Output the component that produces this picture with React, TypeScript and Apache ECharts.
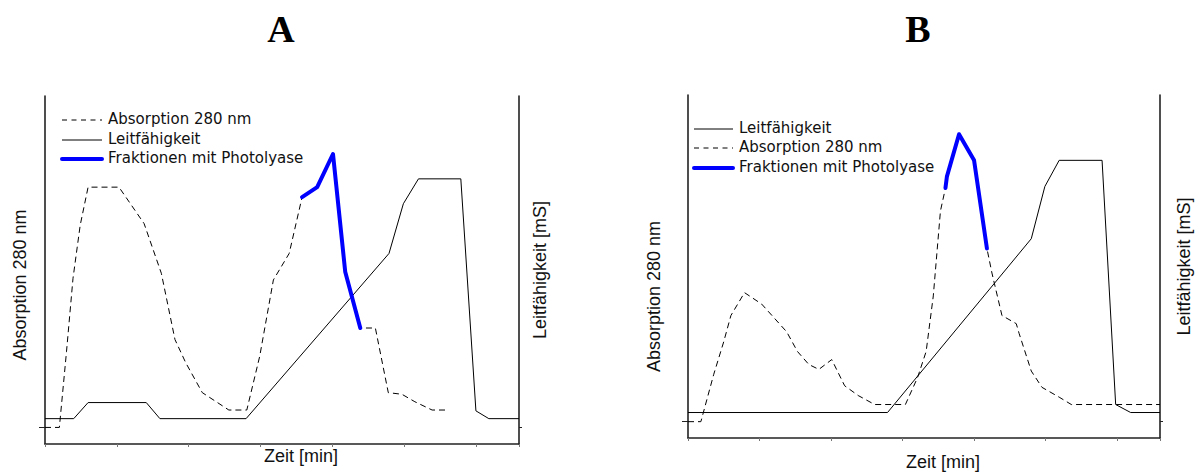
import React, { useEffect, useRef } from "react";
import * as echarts from "echarts";

// [Zeit (min), Wert] pairs, panel A
const absorptionA: [number, number][] = [
  [0, 0], [2.0, 0], [3.0, 4.6], [3.9, 9.0], [4.9, 12.2], [6.0, 14.5], [10.3, 14.5],
  [13.8, 12.3], [16.2, 9.3], [18.1, 5.3], [19.6, 3.9], [21.9, 2.1], [25.6, 1.05],
  [28.1, 1.05], [29.9, 4.3], [31.8, 8.9], [34.0, 10.5], [35.8, 13.9], [37.9, 14.5],
  [40.1, 16.5], [41.8, 9.4], [43.9, 6.0], [46.0, 6.0], [47.8, 2.1], [49.7, 2.0],
  [51.5, 1.55], [53.9, 1.05], [56.0, 1.05],
];
const leitfaehigkeitA: [number, number][] = [
  [0, 0.53], [4.0, 0.53], [6.0, 1.5], [14.1, 1.5], [16.0, 0.53], [28.0, 0.53],
  [47.9, 10.5], [49.9, 13.5], [52.0, 15.0], [57.9, 15.0], [60.0, 1.0], [61.8, 0.53],
  [66, 0.53],
];
const photolyaseA: [number, number][] = [
  [35.8, 13.9], [37.9, 14.5], [40.1, 16.5], [41.8, 9.4], [43.9, 6.0],
];

// [Zeit (min), Wert] pairs, panel B
const absorptionB: [number, number][] = [
  [0, 0], [1.8, 0], [3.6, 2.9], [5.0, 4.9], [6.0, 6.5], [7.9, 7.9], [10.3, 7.2],
  [13.8, 5.5], [15.3, 4.3], [16.9, 3.5], [18.3, 3.2], [20.1, 3.8], [21.9, 2.2],
  [23.8, 1.6], [26.1, 1.05], [30.4, 1.05], [32.1, 2.7], [33.3, 4.3], [34.3, 7.7],
  [35.3, 12.9], [36.0, 14.3], [36.2, 15.0], [37.9, 17.6], [40.0, 16.0], [41.8, 10.6],
  [42.5, 9.1], [43.9, 6.5], [45.9, 6.0], [46.3, 5.4], [48.0, 3.1], [49.5, 2.1],
  [51.9, 1.5], [53.6, 1.05], [66, 1.05],
];
const leitfaehigkeitB: [number, number][] = [
  [0, 0.56], [27.9, 0.56], [48.0, 11.2], [49.9, 14.4], [51.9, 16.0], [57.9, 16.0],
  [59.8, 1.05], [61.9, 0.56], [66, 0.56],
];
const photolyaseB: [number, number][] = [
  [36.0, 14.3], [36.2, 15.0], [37.9, 17.6], [40.0, 16.0], [41.8, 10.6],
];

const panelTitles = ["A", "B"];
const ABS = "Absorption 280 nm";
const LEIT = "Leitfähigkeit";
const FRAK = "Fraktionen mit Photolyase";
const legendOrderA = [ABS, LEIT, FRAK];
const legendOrderB = [LEIT, ABS, FRAK];
const xTitle = "Zeit [min]";
const yLeftTitle = "Absorption 280 nm";
const yRightTitle = "Leitfähigkeit [mS]";
const zeitTicks = { min: 0, max: 66, interval: 10 };
const wertRange = { min: -1, max: 20 };

const lineStyles: Record<string, any> = {
  [ABS]: { color: "#000", width: 1, type: [6, 4] },
  [LEIT]: { color: "#000", width: 1, type: "solid" },
  [FRAK]: { color: "#0000ff", width: 4, type: "solid", cap: "round", join: "round" },
};

const axisColor = "#222";
const nameFont = { fontFamily: "Liberation Sans, Arial, sans-serif", fontSize: 18, color: "#111" };

function panel(
  i: number,
  geom: { left: number; top: number; width: number; height: number },
  names: { xGap: number; yLeftGap: number; yRightGap: number; yLeftPad: number[] },
  abs: [number, number][],
  leit: [number, number][],
  frak: [number, number][]
) {
  const grid = { ...geom, containLabel: false };
  const xAxis = {
    gridIndex: i,
    type: "value",
    ...zeitTicks,
    axisLine: { show: true, onZero: false, lineStyle: { color: axisColor, width: 1.5 } },
    axisTick: { show: true, length: 3, lineStyle: { color: "#777", width: 1 } },
    axisLabel: { show: false },
    splitLine: { show: false },
    name: xTitle,
    nameLocation: "middle",
    nameGap: names.xGap,
    nameTextStyle: { ...nameFont, padding: [0, 0, 0, 38] },
  };
  const yBase = {
    gridIndex: i,
    type: "value",
    ...wertRange,
    axisLine: { show: true, onZero: false, lineStyle: { color: axisColor, width: 1.6 } },
    axisLabel: { show: false },
    splitLine: { show: false },
    nameLocation: "middle",
  };
  const yAxes = [
    {
      ...yBase,
      position: "left",
      axisTick: { show: true, customValues: [0], length: 6, lineStyle: { color: axisColor, width: 1 } },
      name: yLeftTitle,
      nameGap: names.yLeftGap,
      nameTextStyle: { ...nameFont, padding: names.yLeftPad },
    },
    {
      ...yBase,
      position: "right",
      axisTick: { show: true, customValues: [0], length: 3, lineStyle: { color: axisColor, width: 1 } },
      name: yRightTitle,
      nameGap: names.yRightGap,
      nameTextStyle: { ...nameFont },
    },
  ];
  const mk = (name: string, data: [number, number][], yIdx: number, z: number) => ({
    type: "line",
    name,
    data,
    xAxisIndex: i,
    yAxisIndex: 2 * i + yIdx,
    symbol: "none",
    lineStyle: lineStyles[name],
    z,
    silent: true,
  });
  const series = [mk(ABS, abs, 0, 2), mk(LEIT, leit, 1, 3), mk(FRAK, frak, 0, 4)];
  return { grid, xAxis, yAxes, series };
}

function legendGraphics(order: string[], x0: number, x1: number, rows: number[]) {
  const els: any[] = [];
  order.forEach((name, k) => {
    const ls = lineStyles[name];
    els.push({
      type: "line",
      silent: true,
      shape: { x1: x0, y1: rows[k], x2: x1, y2: rows[k] },
      style: {
        stroke: ls.color,
        lineWidth: ls.width,
        lineDash: name === ABS ? [5, 4.5] : null,
        lineCap: name === FRAK ? "round" : "butt",
      },
    });
    els.push({
      type: "text",
      silent: true,
      x: x1 + 6,
      y: rows[k] - 1,
      style: {
        text: name,
        fontFamily: "DejaVu Sans, sans-serif",
        fontSize: 15,
        fill: "#111",
        align: "left",
        verticalAlign: "middle",
      },
    });
  });
  return els;
}

export default function App() {
  const ref = useRef<HTMLDivElement>(null);

  useEffect(() => {
    if (!ref.current) return;
    const chart = echarts.init(ref.current, null, { renderer: "svg" });

    const pA = panel(
      0,
      { left: 45, top: 96, width: 474, height: 348 },
      { xGap: 3, yLeftGap: 16, yRightGap: 12, yLeftPad: [0, 30, 0, 0] },
      absorptionA,
      leitfaehigkeitA,
      photolyaseA
    );
    const pB = panel(
      1,
      { left: 688, top: 95, width: 472, height: 350 },
      { xGap: 15, yLeftGap: 25, yRightGap: 15, yLeftPad: [0, 60, 0, 0] },
      absorptionB,
      leitfaehigkeitB,
      photolyaseB
    );

    const titleStyle = {
      fontFamily: "Liberation Serif, Times New Roman, serif",
      fontWeight: "bold",
      fontSize: 38,
      color: "#000",
    };

    chart.setOption({
      animation: false,
      backgroundColor: "#fff",
      title: [
        { text: panelTitles[0], left: 281, top: 10, textAlign: "center", padding: 0, textStyle: titleStyle },
        { text: panelTitles[1], left: 918, top: 10, textAlign: "center", padding: 0, textStyle: titleStyle },
      ],
      grid: [pA.grid, pB.grid],
      xAxis: [pA.xAxis, pB.xAxis],
      yAxis: [...pA.yAxes, ...pB.yAxes],
      series: [...pA.series, ...pB.series],
      graphic: [
        ...legendGraphics(legendOrderA, 62, 102, [120, 140, 159]),
        ...legendGraphics(legendOrderB, 694, 733, [129, 148, 168]),
      ],
    });

    return () => chart.dispose();
  }, []);

  return (
    <div
      ref={ref}
      style={{ position: "absolute", left: 0, top: 0, width: 1200, height: 476 }}
    />
  );
}
